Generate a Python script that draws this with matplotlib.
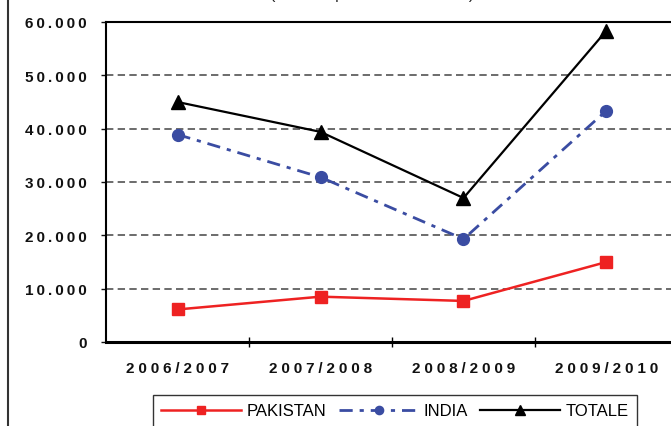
import matplotlib.pyplot as plt
from matplotlib.lines import Line2D
from matplotlib.ticker import FuncFormatter

plt.rcParams['font.family'] = ['Liberation Sans', 'DejaVu Sans']
plt.rcParams['lines.scale_dashes'] = False

# Data
stagioni = ["2006/2007", "2007/2008", "2008/2009", "2009/2010"]
pakistan = [6100, 8500, 7700, 15000]
india = [38900, 30900, 19300, 43400]
totale = [45000, 39400, 27000, 58400]
y_ticks = [0, 10000, 20000, 30000, 40000, 50000, 60000]


def spaced(s, sp):
    # Excel-like letter spacing
    return sp.join(list(s))


def fmt_it(v, pos):
    s = f"{int(v):,}".replace(",", ".")
    return spaced(s, "\u2009")


W, H = 671, 427
fig = plt.figure(figsize=(W / 100, H / 100), dpi=100)
ax = fig.add_axes([106 / W, 1 - 343 / H, (678 - 106) / W, (343 - 23) / H])

x = list(range(len(stagioni)))

ax.plot(x, pakistan, color="#ee2222", lw=1.8, marker="s", markersize=8.5,
        label="PAKISTAN", zorder=4)
ax.plot(x, india, color="#3a4ca2", lw=2.0, marker="o", markersize=8.5,
        dashes=(9.5, 5, 3, 5), label="INDIA", zorder=4)
ax.plot(x, totale, color="black", lw=1.6, marker="^", markersize=10,
        label="TOTALE", zorder=4)

# dashed horizontal grid
for yv in y_ticks[1:-1]:
    ax.axhline(yv, color="#444444", lw=1.1, dashes=(5.3, 3.1), zorder=1)

ax.set_xlim(-0.5, 3.5)
ax.set_ylim(0, 60000)

ax.set_yticks(y_ticks)
ax.yaxis.set_major_formatter(FuncFormatter(fmt_it))
ax.tick_params(axis="y", direction="out", length=3.6, width=1, pad=10,
               labelsize=11, colors="#111111")
for t in ax.get_yticklabels():
    t.set_fontweight("bold")

ax.set_xticks(x)
ax.set_xticklabels([spaced(s, "\u2005") for s in stagioni],
                   fontweight="bold", fontsize=11, color="#111111")
ax.set_xticks([0.5, 1.5, 2.5], minor=True)
ax.tick_params(axis="x", which="major", length=0, pad=13.5)
ax.tick_params(axis="x", which="minor", direction="inout", length=7, width=1)

for side in ["top", "left"]:
    ax.spines[side].set_linewidth(1.5)
ax.spines["bottom"].set_linewidth(2.2)
ax.spines["right"].set_visible(False)

# title, mostly cut off at the top of the image (as in the reference)
fig.text(372 / W, 1 + 0.8 / H, "(valori espressi in tonnellate)",
         ha="center", va="baseline", fontsize=11.5, color="#222222")

# outer chart border on the left
fig.add_artist(Line2D([8 / W, 8 / W], [0, 1], color="#333333", lw=1.5))

fig.legend(loc="upper left", bbox_to_anchor=(153 / W, 1 - 396 / H),
           ncol=3, fontsize=12, handlelength=4.8, handletextpad=0.3,
           columnspacing=0.75, markerscale=0.7, fancybox=False,
           edgecolor="#333333", framealpha=1, borderpad=0.5,
           borderaxespad=0)

fig.savefig("out.png", dpi=100)
